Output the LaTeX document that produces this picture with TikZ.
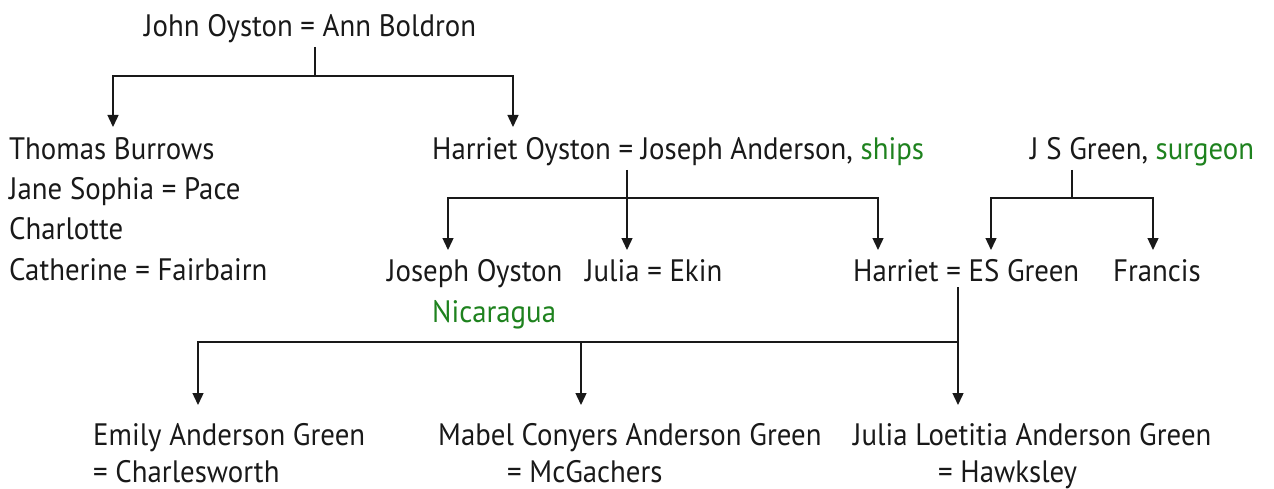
\documentclass[tikz,border=0pt]{standalone}
\usepackage{fontspec}
\setmainfont{PT Sans}[FakeStretch=0.93]
\usetikzlibrary{arrows.meta}
\definecolor{txt}{RGB}{25,25,25}
\definecolor{grn}{RGB}{30,130,30}
\tikzset{
  lbl/.style={anchor=base west, inner sep=0pt, text=txt, font=\fontsize{31}{36}\selectfont},
  conn/.style={line width=1.4pt, draw=txt},
  arr/.style={conn, -{Triangle[width=11pt,length=12pt]}},
}
\begin{document}
\begin{tikzpicture}[x=1pt,y=-1pt]
\useasboundingbox (0,0) rectangle (1274,489);
% generation 1
\node[lbl] (jo) at (144,37) {John Oyston = Ann Boldron};
% generation 2
\node[lbl] (tb) at (9,160) {Thomas Burrows};
\node[lbl] (js) at (9,200) {Jane Sophia = Pace};
\node[lbl] (ch) at (9,240) {Charlotte};
\node[lbl] (ca) at (9,280) {Catherine = Fairbairn};
\node[lbl] (ho) at (432,160) {Harriet Oyston = Joseph Anderson, \textcolor{grn}{ships}};
\node[lbl] (jsg) at (1030,160) {J S Green, \textcolor{grn}{surgeon}};
% generation 3
\node[lbl] (jy) at (387,281) {Joseph Oyston};
\node[lbl] (nic) at (432,322) {\textcolor{grn}{Nicaragua}};
\node[lbl] (je) at (585,281) {Julia = Ekin};
\node[lbl] (hg) at (853,281) {Harriet = ES Green};
\node[lbl] (fr) at (1113,281) {Francis};
% generation 4
\node[lbl] (em) at (93,445) {Emily Anderson Green};
\node[lbl] (emc) at (93,482) {= Charlesworth};
\node[lbl] (ma) at (438,445) {Mabel Conyers Anderson Green};
\node[lbl] (mac) at (507,482) {= McGachers};
\node[lbl] (ju) at (853,445) {Julia Loetitia Anderson Green};
\node[lbl] (juc) at (938,482) {= Hawksley};
% junction coordinates
\coordinate (a0) at (315,47);
\coordinate (a1) at (315,76);
\coordinate (at1) at (113,127);
\coordinate (at2) at (513,127);
\coordinate (b0) at (627,170);
\coordinate (b1) at (627,198);
\coordinate (bt1) at (448,250);
\coordinate (bt2) at (627,250);
\coordinate (bt3) at (878,250);
\coordinate (c0) at (1072,170);
\coordinate (c1) at (1072,198);
\coordinate (ct1) at (991,250);
\coordinate (ct2) at (1153,250);
\coordinate (d0) at (958,287);
\coordinate (d1) at (958,342);
\coordinate (dt1) at (198,405);
\coordinate (dt2) at (581,405);
\coordinate (dt3) at (958,405);
% connectors
\draw[conn] (a0) -- (a1);
\draw[arr] (a1) -| (at1);
\draw[arr] (a1) -| (at2);
\draw[arr] (b0) -- (bt2);
\draw[arr] (b1) -| (bt1);
\draw[arr] (b1) -| (bt3);
\draw[conn] (c0) -- (c1);
\draw[arr] (c1) -| (ct1);
\draw[arr] (c1) -| (ct2);
\draw[arr] (d0) -- (dt3);
\draw[arr] (d1) -| (dt1);
\draw[arr] (d1) -| (dt2);
\end{tikzpicture}
\end{document}
